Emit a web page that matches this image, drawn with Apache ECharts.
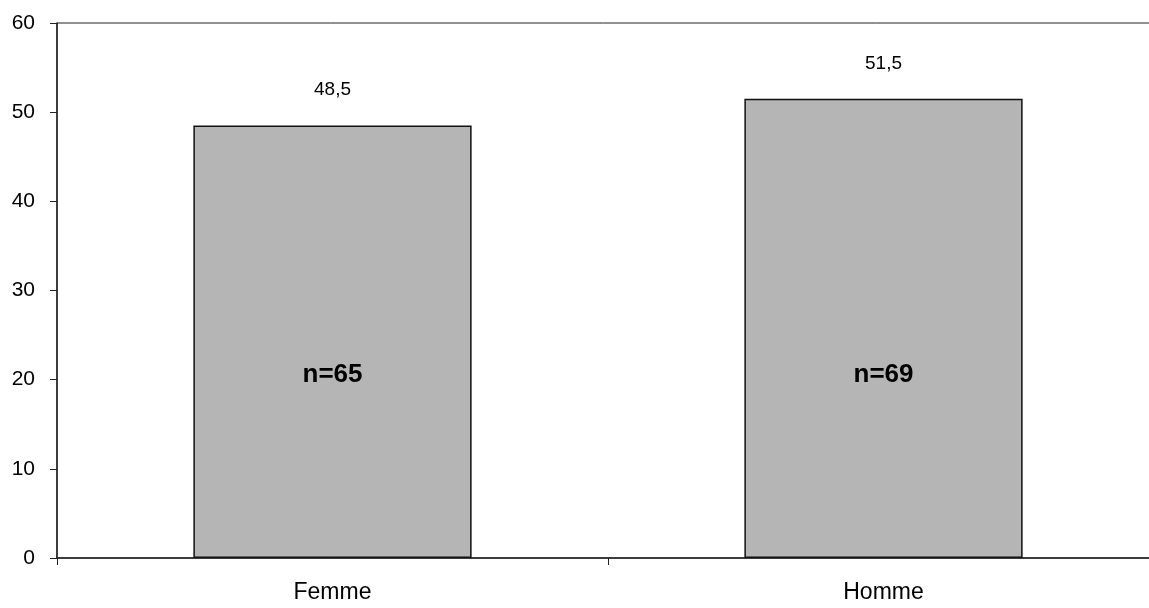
<!DOCTYPE html>
<html>
<head>
<meta charset="utf-8">
<script src="https://cdn.jsdelivr.net/npm/echarts@6/dist/echarts.min.js"></script>
<style>
  html, body { margin: 0; padding: 0; background: #fff; }
  #chart { width: 1149px; height: 608px; }
</style>
</head>
<body>
<div id="chart"></div>
<script>
// categories et valeurs (%)
var categories = ["Femme", "Homme"];
var values = [48.5, 51.5];
var counts = [65, 69];
var yTicks = [0, 10, 20, 30, 40, 50, 60];

var chart = echarts.init(document.getElementById("chart"));

var option = {
  backgroundColor: "#fff",
  animation: false,
  textStyle: { fontFamily: "Liberation Sans, Arial, sans-serif" },
  grid: {
    left: 57,
    width: 1102, // l'axe continue au-delà du bord droit
    top: 23,
    bottom: 50,
    outerBoundsMode: "none",
    containLabel: false,
    show: true,
    borderColor: "#222",
    borderWidth: 1
  },
  xAxis: {
    type: "category",
    data: categories,
    axisLine: { lineStyle: { color: "#222", width: 1.5 } },
    axisTick: { show: true, length: 7, lineStyle: { color: "#222" } },
    axisLabel: { color: "#000", fontSize: 23, margin: 23 },
    splitLine: { show: false }
  },
  yAxis: {
    type: "value",
    min: yTicks[0],
    max: yTicks[yTicks.length - 1],
    interval: 10,
    axisLine: { show: true, lineStyle: { color: "#222", width: 1.5 } },
    axisTick: { show: true, length: 7, lineStyle: { color: "#222" } },
    axisLabel: { color: "#000", fontSize: 21, margin: 22 },
    splitLine: { show: false }
  },
  series: [
    {
      type: "bar",
      data: values,
      barWidth: "50.5%",
      itemStyle: { color: "#b5b5b5", borderColor: "#111", borderWidth: 1.5 },
      label: {
        show: true,
        position: "top",
        distance: 26,
        color: "#000",
        fontSize: 19,
        formatter: function (p) {
          return String(p.value).replace(".", ",");
        }
      }
    },
    {
      // effectif, affiché au milieu de la barre
      type: "bar",
      data: values,
      barWidth: "50.5%",
      barGap: "-100%",
      itemStyle: { color: "rgba(0,0,0,0)" },
      silent: true,
      label: {
        show: true,
        position: "insideBottom",
        distance: 170,
        color: "#000",
        fontSize: 26,
        fontWeight: "bold",
        formatter: function (p) {
          return "n=" + counts[p.dataIndex];
        }
      }
    }
  ]
};

chart.setOption(option);
</script>
</body>
</html>
